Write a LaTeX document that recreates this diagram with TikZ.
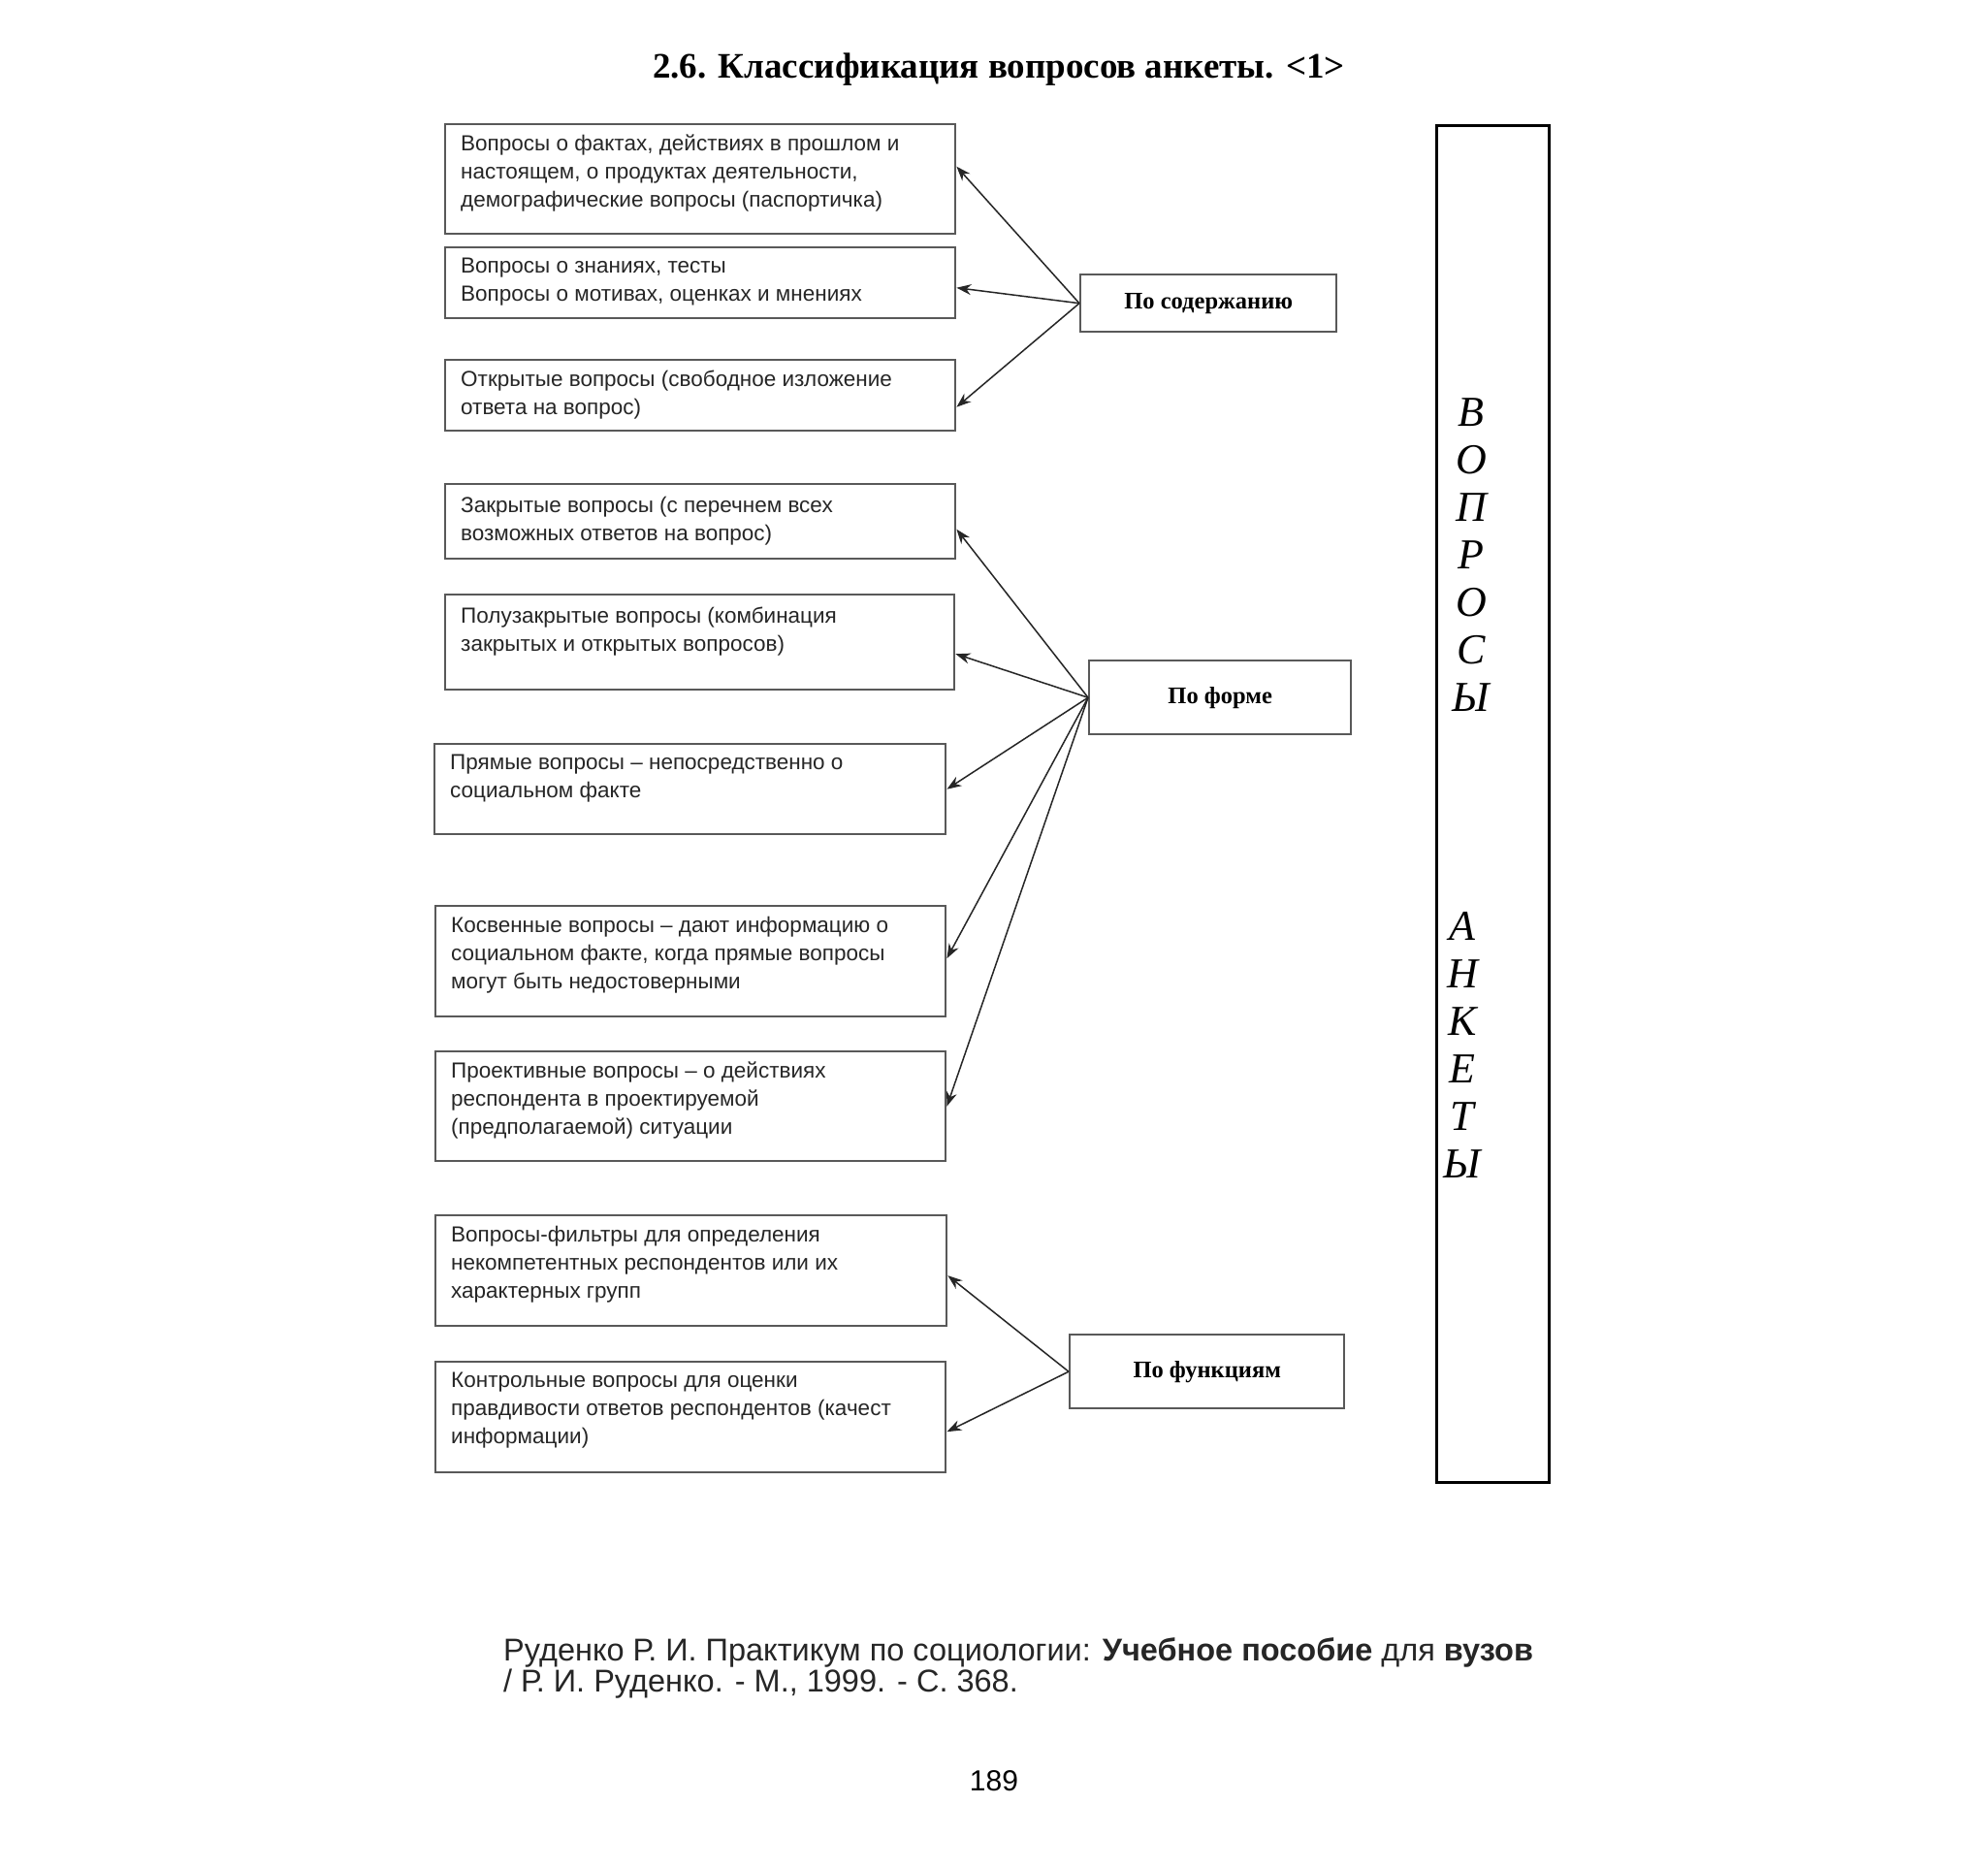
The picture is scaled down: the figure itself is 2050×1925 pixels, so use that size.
\documentclass[tikz,border=0pt]{standalone}
\usepackage{fontspec}
\setmainfont{Liberation Serif}
\setsansfont{Liberation Sans}
\usetikzlibrary{arrows.meta}
\begin{document}
\begin{tikzpicture}[x=1pt,y=-1pt,
  box/.style={draw=black!65, line width=2.4pt, anchor=north west, inner sep=0pt},
  btext/.style={anchor=north west, align=left, inner sep=0pt, font=\sffamily\fontsize{22.5}{29}\selectfont, text=black!85},
  cat/.style={draw=black!65, line width=2.4pt, anchor=north west, inner sep=0pt, font=\bfseries\fontsize{24.5}{28}\selectfont},
  arr/.style={line width=1.5pt, draw=black!85, -{Stealth[length=15pt,width=11pt]}},
  vword/.style={align=center, inner sep=0pt, font=\itshape\fontsize{44}{49}\selectfont},
]
\useasboundingbox (0,0) rectangle (2050,1925);
\fill[white] (0,0) rectangle (2050,1925);

\node[inner sep=0pt, font=\bfseries\fontsize{37}{40}\selectfont] (title) at (1030,72) {2.6. Классификация вопросов анкеты. <1>};

% left boxes
\node[box, minimum width=526pt, minimum height=113pt] (b1) at (458,127) {};
\node[btext] (t1) at ([xshift=17pt,yshift=-12pt]b1.north west) {Вопросы о фактах, действиях в прошлом и\\настоящем, о продуктах деятельности,\\демографические вопросы (паспортичка)};
\node[box, minimum width=526pt, minimum height=73pt] (b2) at (458,254) {};
\node[btext] (t2) at ([xshift=17pt,yshift=-12pt]b2.north west) {Вопросы о знаниях, тесты\\Вопросы о мотивах, оценках и мнениях};
\node[box, minimum width=526pt, minimum height=73pt] (b3) at (458,370) {};
\node[btext] (t3) at ([xshift=17pt,yshift=-12pt]b3.north west) {Открытые вопросы (свободное изложение\\ответа на вопрос)};
\node[box, minimum width=526pt, minimum height=77pt] (b4) at (458,498) {};
\node[btext] (t4) at ([xshift=17pt,yshift=-14pt]b4.north west) {Закрытые вопросы (с перечнем всех\\возможных ответов на вопрос)};
\node[box, minimum width=525pt, minimum height=98pt] (b5) at (458,612) {};
\node[btext] (t5) at ([xshift=17pt,yshift=-14pt]b5.north west) {Полузакрытые вопросы (комбинация\\закрытых и открытых вопросов)};
\node[box, minimum width=527pt, minimum height=93pt] (b6) at (447,766) {};
\node[btext] (t6) at ([xshift=17pt,yshift=-12pt]b6.north west) {Прямые вопросы – непосредственно о\\социальном факте};
\node[box, minimum width=526pt, minimum height=114pt] (b7) at (448,933) {};
\node[btext] (t7) at ([xshift=17pt,yshift=-12pt]b7.north west) {Косвенные вопросы – дают информацию о\\социальном факте, когда прямые вопросы\\могут быть недостоверными};
\node[box, minimum width=526pt, minimum height=113pt] (b8) at (448,1083) {};
\node[btext] (t8) at ([xshift=17pt,yshift=-12pt]b8.north west) {Проективные вопросы – о действиях\\респондента в проектируемой\\(предполагаемой) ситуации};
\node[box, minimum width=527pt, minimum height=114pt] (b9) at (448,1252) {};
\node[btext] (t9) at ([xshift=17pt,yshift=-12pt]b9.north west) {Вопросы-фильтры для определения\\некомпетентных респондентов или их\\характерных групп};
\node[box, minimum width=526pt, minimum height=114pt] (b10) at (448,1403) {};
\node[btext] (t10) at ([xshift=17pt,yshift=-12pt]b10.north west) {Контрольные вопросы для оценки\\правдивости ответов респондентов (качест\\информации)};

% category boxes
\node[cat, minimum width=264pt, minimum height=59pt] (c1) at (1113,282) {По содержанию};
\node[cat, minimum width=270pt, minimum height=76pt] (c2) at (1122,680) {По форме};
\node[cat, minimum width=283pt, minimum height=76pt] (c3) at (1102,1375) {По функциям};

% arrows
\draw[arr] (c1.west) -- ([yshift=13pt]b1.east);
\draw[arr] (c1.west) -- ([yshift=-5pt]b2.east);
\draw[arr] (c1.west) -- ([yshift=-12pt]b3.east);
\draw[arr] (c2.west) -- ([yshift=-8pt]b4.east);
\draw[arr] (c2.west) -- ([yshift=-12pt]b5.east);
\draw[arr] (c2.west) -- (b6.east);
\draw[arr] (c2.west) -- ([yshift=3pt]b7.east);
\draw[arr] (c2.west) -- (b8.east);
\draw[arr] (c3.west) -- ([yshift=-5pt]b9.east);
\draw[arr] (c3.west) -- ([yshift=-15pt]b10.east);

% tall box
\node[draw=black, line width=3.2pt, anchor=north west, inner sep=0pt, minimum width=116pt, minimum height=1399pt] (q) at (1480,128) {};
\node[vword] (w1) at (1517,572) {В\\О\\П\\Р\\О\\С\\Ы};
\node[vword] (w2) at (1508,1077) {А\\Н\\К\\Е\\Т\\Ы};

% footer
\node[anchor=north west, align=left, inner sep=0pt, font=\sffamily\fontsize{32.5}{32}\selectfont, text=black!85] (ref) at (519,1688) {Руденко Р. И. Практикум по социологии: \textbf{Учебное пособие} для \textbf{вузов}\\/ Р. И. Руденко. - М., 1999. - С. 368.};
\node[inner sep=0pt, font=\sffamily\fontsize{30}{34}\selectfont] (page) at (1025,1836) {189};
\end{tikzpicture}
\end{document}
